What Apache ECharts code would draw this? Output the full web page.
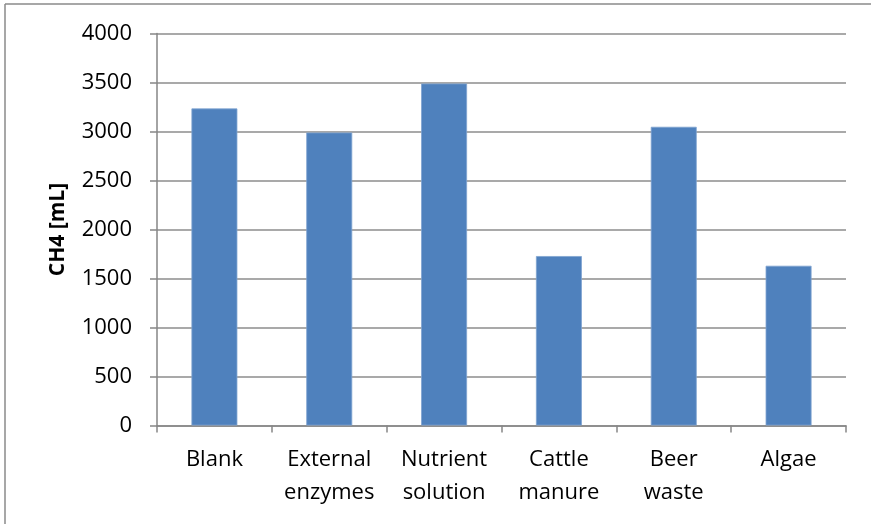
<!DOCTYPE html>
<html>
<head>
<meta charset="utf-8">
<script src="https://cdn.jsdelivr.net/npm/echarts@6/dist/echarts.min.js"></script>
<style>
  html, body { margin: 0; padding: 0; background: #fff; }
  #chart { width: 871px; height: 524px; }
</style>
</head>
<body>
<div id="chart"></div>
<script>
// Substrate categories and cumulative methane yield
const categories = ['Blank', 'External\nenzymes', 'Nutrient\nsolution', 'Cattle\nmanure', 'Beer\nwaste', 'Algae'];
const methaneMl = [3235, 2990, 3490, 1729, 3048, 1630];
const yAxisTitle = 'CH4 [mL]';

const chart = echarts.init(document.getElementById('chart'));
const font = '"Open Sans", "Liberation Sans", sans-serif';

chart.setOption({
  animation: false,
  backgroundColor: '#ffffff',
  graphic: [
    // chart-area frame (top and left edges)
    { type: 'line', shape: { x1: 5, y1: 4, x2: 871, y2: 4 }, style: { stroke: '#8a8a8a', lineWidth: 1.5 } },
    { type: 'line', shape: { x1: 5, y1: 4, x2: 5, y2: 524 }, style: { stroke: '#8a8a8a', lineWidth: 1.5 } }
  ],
  grid: { left: 157, right: 25, top: 33.5, bottom: 98.5 },
  xAxis: {
    type: 'category',
    data: categories,
    axisLine: { lineStyle: { color: '#868686', width: 1.5 } },
    axisTick: { show: true, length: 7, lineStyle: { color: '#868686', width: 1.5 } },
    axisLabel: { color: '#000', fontFamily: font, fontSize: 22, lineHeight: 33, margin: 18, interval: 0 }
  },
  yAxis: {
    type: 'value',
    min: 0, max: 4000, interval: 500,
    name: yAxisTitle,
    nameLocation: 'middle',
    nameGap: 88,
    nameTextStyle: { color: '#000', fontFamily: font, fontSize: 21, fontWeight: 'bold' },
    axisLine: { show: true, lineStyle: { color: '#868686', width: 1.5 } },
    axisTick: { show: true, length: 7, lineStyle: { color: '#868686', width: 1.5 } },
    splitLine: { lineStyle: { color: '#8c8c8c', width: 1.5 } },
    axisLabel: { color: '#000', fontFamily: font, fontSize: 22, margin: 25, formatter: v => String(v) }
  },
  series: [{
    type: 'bar',
    data: methaneMl,
    barWidth: '40%',
    itemStyle: { color: '#4f81bd', borderColor: '#7fa3d1', borderWidth: 0.8 }
  }]
});
</script>
</body>
</html>
